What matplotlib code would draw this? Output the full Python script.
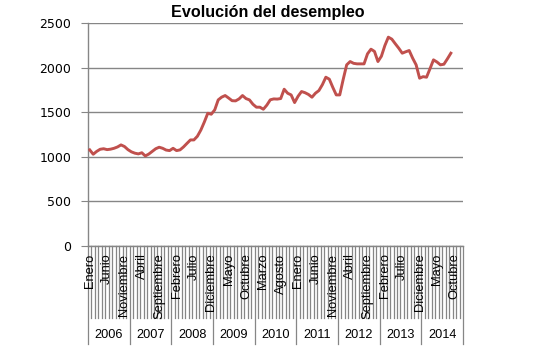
import matplotlib
matplotlib.use("Agg")
import matplotlib.pyplot as plt

title = "Evolución del desempleo"
years = ["2006", "2007", "2008", "2009", "2010", "2011", "2012", "2013", "2014"]
month_names = ["Enero", "Febrero", "Marzo", "Abril", "Mayo", "Junio", "Julio",
               "Agosto", "Septiembre", "Octubre", "Noviembre", "Diciembre"]
label_step = 5
values = [
    1077, 1028, 1060, 1084, 1090, 1080, 1085, 1095, 1110, 1133, 1115, 1080,
    1055, 1040, 1032, 1045, 1009, 1030, 1060, 1090, 1107, 1095, 1075, 1069,
    1095, 1069, 1077, 1110, 1150, 1189, 1189, 1230, 1300, 1390, 1489, 1478,
    1527, 1639, 1670, 1688, 1660, 1630, 1628, 1650, 1688, 1654, 1639, 1590,
    1557, 1557, 1534, 1580, 1640, 1650, 1648, 1654, 1759, 1714, 1695, 1609,
    1680, 1733, 1720, 1700, 1669, 1714, 1744, 1810, 1894, 1872, 1780, 1695,
    1695, 1870, 2033, 2070, 2050, 2044, 2044, 2044, 2157, 2209, 2184, 2070,
    2130, 2250, 2344, 2322, 2270, 2220, 2164, 2180, 2194, 2108, 2033, 1883,
    1900, 1894, 1990, 2089, 2065, 2033, 2040, 2100, 2164,
]
y_ticks = [0, 500, 1000, 1500, 2000, 2500]

W, H = 547, 356
fig = plt.figure(figsize=(W / 100, H / 100), dpi=100)
left, right, top, bottom = 88, 463, 23.3, 245.7
ax = fig.add_axes([left / W, 1 - bottom / H, (right - left) / W, (bottom - top) / H])

n_cat = len(years) * 12
xs = [i + 0.5 for i in range(len(values))]
ax.plot(xs, values, color="#C0504D", lw=2.1, solid_joinstyle="round", zorder=3)

ax.set_xlim(0, n_cat)
ax.set_ylim(0, 2500)
grid_c = "#868686"
for s in ["top", "right"]:
    ax.spines[s].set_visible(False)
for s in ["left", "bottom"]:
    ax.spines[s].set_color(grid_c)
    ax.spines[s].set_linewidth(1.0)
ax.set_yticks(y_ticks)
ax.set_yticklabels([str(v) for v in y_ticks])
ax.tick_params(axis="y", direction="out", length=5, color=grid_c, labelsize=9,
               pad=7, labelcolor="black")
ax.yaxis.grid(True, color=grid_c, lw=1.0)
ax.set_axisbelow(True)
ax.set_xticks([])

font = "Liberation Sans"
ph = bottom - top
def ay(py):
    return (bottom - py) / ph

tr = ax.get_xaxis_transform()
y_m = ay(318)
y_y = ay(344)
for k in range(n_cat + 1):
    yb = y_y if k % 12 == 0 else y_m
    ax.plot([k, k], [0, yb], transform=tr, color=grid_c, lw=0.9, clip_on=False)

for k in range(0, n_cat, label_step):
    ax.text(k + 0.5, ay(253.5), month_names[k % 12], transform=tr, rotation=90,
            ha="center", va="top", fontsize=9.3, family=font)

for j, yr in enumerate(years):
    ax.text(j * 12 + 6, ay(334.5), yr, transform=tr, ha="center", va="center",
            fontsize=9.2, family=font)

fig.text(268 / W, 1 - 13 / H, title, ha="center", va="center", fontsize=11.6,
         fontweight="bold", family=font)

fig.savefig("out.png", dpi=100)
